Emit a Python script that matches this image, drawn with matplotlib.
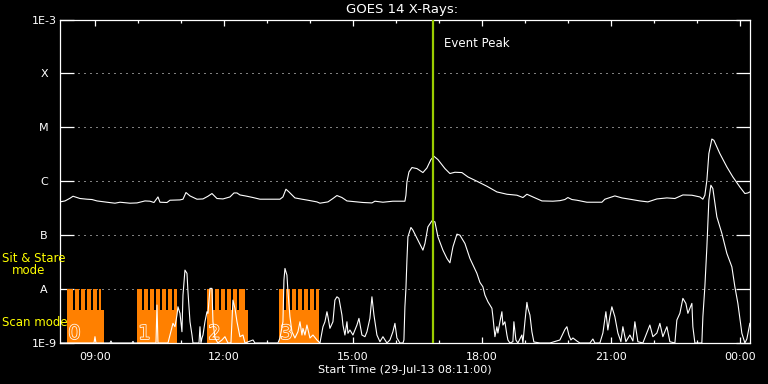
import numpy as np
import matplotlib
matplotlib.use("Agg")
import matplotlib.pyplot as plt
import matplotlib.patheffects as pe
from matplotlib.ticker import FixedLocator, MultipleLocator, NullLocator

# ---------------- data (time in decimal hours of 29-Jul-13, flux as log10 W/m^2) -------------
long_hours = [8.183, 8.300, 8.416, 8.486, 8.579, 8.648, 8.811, 8.927, 9.044, 9.276, 9.462, 9.579,
              9.811, 9.974, 10.160, 10.276, 10.369, 10.462, 10.509, 10.672, 10.741, 10.974, 11.044,
              11.114, 11.207, 11.369, 11.509, 11.625, 11.718, 11.834, 11.974, 12.137, 12.230, 12.300,
              12.369, 12.532, 12.672, 12.834, 12.997, 13.300, 13.369, 13.439, 13.509, 13.648, 13.811,
              13.951, 14.160, 14.230, 14.416, 14.532, 14.625, 14.741, 14.858, 14.997, 15.230, 15.439,
              15.509, 15.695, 15.927, 16.160, 16.206, 16.230, 16.253, 16.300, 16.369, 16.486, 16.625,
              16.718, 16.811, 16.881, 16.974, 17.137, 17.253, 17.369, 17.532, 17.672, 17.881, 18.114,
              18.346, 18.579, 18.811, 18.951, 19.044, 19.183, 19.393, 19.648, 19.811, 19.927, 19.997,
              20.090, 20.206, 20.439, 20.788, 20.858, 21.090, 21.253, 21.439, 21.672, 21.858, 22.067,
              22.300, 22.486, 22.672, 22.881, 23.067, 23.137, 23.183, 23.230, 23.276, 23.346, 23.393,
              23.532, 23.695, 23.834, 23.997, 24.114, 24.183, 24.230]
long_log = [-6.383, -6.365, -6.315, -6.278, -6.302, -6.320, -6.333, -6.339, -6.365, -6.389, -6.407, -6.389,
            -6.407, -6.402, -6.365, -6.370, -6.394, -6.291, -6.389, -6.394, -6.352, -6.346, -6.333,
            -6.209, -6.272, -6.333, -6.328, -6.278, -6.228, -6.320, -6.328, -6.291, -6.217, -6.217,
            -6.254, -6.278, -6.302, -6.333, -6.333, -6.333, -6.291, -6.148, -6.198, -6.309, -6.333,
            -6.352, -6.383, -6.407, -6.383, -6.320, -6.265, -6.302, -6.365, -6.376, -6.394, -6.402,
            -6.370, -6.389, -6.370, -6.370, -6.370, -6.259, -6.013, -5.828, -5.746, -5.765, -5.839,
            -5.754, -5.598, -5.537, -5.598, -5.765, -5.857, -5.833, -5.839, -5.920, -6.000, -6.093,
            -6.198, -6.241, -6.259, -6.302, -6.241, -6.291, -6.365, -6.370, -6.360, -6.339, -6.302,
            -6.339, -6.352, -6.389, -6.389, -6.333, -6.272, -6.309, -6.333, -6.365, -6.383, -6.328,
            -6.309, -6.320, -6.254, -6.259, -6.291, -6.333, -6.259, -5.981, -5.487, -5.217, -5.241,
            -5.487, -5.735, -5.920, -6.106, -6.228, -6.217, -6.198]

short_hours = [8.183, 8.881, 8.974, 8.997, 9.020, 9.346, 9.369, 9.392, 9.857, 9.881, 9.904, 10.323,
               10.416, 10.439, 10.462, 10.695, 10.741, 10.811, 10.858, 10.904, 10.927, 10.974, 11.020,
               11.044, 11.090, 11.137, 11.160, 11.207, 11.253, 11.276, 11.416, 11.439, 11.462, 11.486,
               11.509, 11.555, 11.602, 11.625, 11.672, 11.718, 11.741, 11.788, 11.857, 11.950, 12.020,
               12.090, 12.160, 12.183, 12.206, 12.253, 12.300, 12.323, 12.369, 12.439, 12.486, 12.672,
               12.718, 13.253, 13.300, 13.369, 13.392, 13.416, 13.462, 13.486, 13.532, 13.578, 13.648,
               13.718, 13.765, 13.811, 13.834, 13.881, 13.927, 13.997, 14.067, 14.160, 14.230, 14.300,
               14.346, 14.393, 14.416, 14.462, 14.532, 14.578, 14.625, 14.672, 14.741, 14.765, 14.811,
               14.858, 14.881, 14.927, 14.997, 15.090, 15.137, 15.206, 15.276, 15.323, 15.392, 15.439,
               15.486, 15.555, 15.625, 15.695, 15.788, 15.858, 15.927, 15.974, 16.020, 16.090, 16.160,
               16.183, 16.206, 16.230, 16.253, 16.276, 16.346, 16.392, 16.509, 16.625, 16.672, 16.741,
               16.834, 16.904, 16.974, 17.090, 17.183, 17.253, 17.323, 17.416, 17.486, 17.602, 17.718,
               17.881, 17.951, 18.020, 18.067, 18.137, 18.230, 18.253, 18.300, 18.346, 18.369, 18.416,
               18.462, 18.486, 18.532, 18.579, 18.602, 18.648, 18.718, 18.741, 18.788, 18.834, 18.927,
               18.951, 18.997, 19.044, 19.067, 19.114, 19.160, 19.206, 19.346, 19.579, 19.811, 19.927,
               19.974, 20.020, 20.067, 20.114, 20.206, 20.276, 20.509, 20.579, 20.625, 20.741, 20.811,
               20.881, 20.927, 20.974, 21.020, 21.090, 21.160, 21.230, 21.276, 21.346, 21.439, 21.509,
               21.555, 21.625, 21.741, 21.904, 21.974, 22.067, 22.137, 22.206, 22.300, 22.369, 22.486,
               22.532, 22.602, 22.672, 22.741, 22.788, 22.881, 22.904, 22.951, 23.113, 23.137, 23.183,
               23.230, 23.276, 23.323, 23.369, 23.462, 23.579, 23.695, 23.811, 23.881, 23.951, 24.044,
               24.114, 24.160, 24.230]
short_log = [-9.0, -9.0, -9.0, -8.883, -9.0, -9.0, -8.963, -9.0, -9.0, -8.970, -9.0, -9.0,
             -9.0, -8.296, -9.0, -9.0, -8.852, -8.635, -8.698, -8.481, -8.328, -8.450, -8.791,
             -8.111, -7.648, -7.709, -8.050, -8.606, -8.852, -9.0, -9.0, -8.698, -9.0, -8.907,
             -8.852, -8.606, -8.420, -8.450, -7.987, -7.987, -8.606, -8.907, -9.0, -8.944, -8.883,
             -9.0, -9.0, -8.606, -8.204, -8.357, -8.606, -8.698, -8.883, -8.852, -9.0, -8.944,
             -9.0, -9.0, -8.907, -8.606, -7.833, -7.617, -7.741, -8.050, -8.513, -8.791, -8.907,
             -8.791, -8.606, -8.852, -8.728, -8.852, -8.667, -8.907, -8.852, -8.944, -9.0, -8.698,
             -8.606, -8.420, -8.513, -8.728, -8.606, -8.204, -8.143, -8.172, -8.481, -8.667, -8.852,
             -8.606, -8.820, -8.759, -8.852, -8.667, -8.543, -8.852, -8.883, -8.791, -8.543, -8.143,
             -8.481, -8.852, -8.976, -8.883, -9.0, -8.944, -8.791, -8.635, -8.907, -9.0, -9.0,
             -8.944, -8.328, -7.987, -7.463, -7.031, -6.857, -6.907, -7.093, -7.278, -7.154, -6.846,
             -6.735, -6.754, -7.031, -7.278, -7.431, -7.513, -7.217, -6.981, -7.000, -7.154, -7.431,
             -7.709, -7.876, -7.957, -8.111, -8.235, -8.357, -8.513, -8.883, -8.698, -8.815, -8.606,
             -8.420, -8.667, -8.606, -8.852, -8.944, -9.0, -8.976, -8.606, -8.944, -9.0, -8.852,
             -9.0, -8.606, -8.246, -8.357, -8.481, -8.791, -8.981, -9.0, -9.0, -8.944, -8.750,
             -8.698, -8.852, -8.944, -8.907, -8.963, -9.0, -9.0, -8.926, -9.0, -9.0, -8.815,
             -8.420, -8.759, -8.513, -8.328, -8.513, -8.815, -8.976, -8.698, -8.976, -8.852, -8.963,
             -8.606, -8.976, -9.0, -8.667, -8.883, -8.815, -8.635, -8.883, -8.698, -8.976, -9.0,
             -8.574, -8.450, -8.172, -8.265, -8.450, -8.265, -8.698, -9.0, -9.0, -8.513, -7.957,
             -7.217, -6.352, -6.074, -6.135, -6.661, -6.969, -7.339, -7.587, -7.957, -8.265, -8.820,
             -9.0, -8.926, -8.635]

# scan-mode blocks (start/end hours) and their sit & stare teeth
scan_start = [8.346, 9.974, 11.602, 13.276]
scan_end = [9.206, 10.904, 12.555, 14.206]
scan_labels = ["0", "1", "2", "3"]
scan_teeth = [
    [(8.346, 8.486), (8.532, 8.625), (8.672, 8.765), (8.811, 8.904), (8.951, 9.044), (9.090, 9.137)],
    [(9.974, 10.090), (10.137, 10.230), (10.276, 10.369), (10.416, 10.509), (10.556, 10.648),
     (10.695, 10.788), (10.834, 10.904)],
    [(11.602, 11.741), (11.788, 11.881), (11.927, 12.020), (12.067, 12.160), (12.206, 12.299),
     (12.346, 12.485)],
    [(13.276, 13.392), (13.439, 13.532), (13.578, 13.671), (13.718, 13.811), (13.857, 13.950),
     (13.997, 14.090), (14.136, 14.206)],
]
scan_level = 4.08e-9
stare_level = 1e-8

event_peak = 16.855

x_ticks = [9, 12, 15, 18, 21, 24]
x_ticklabels = ["09:00", "12:00", "15:00", "18:00", "21:00", "00:00"]
y_ticks = [1e-9, 1e-8, 1e-7, 1e-6, 1e-5, 1e-4, 1e-3]
y_ticklabels = ["1E-9", "A", "B", "C", "M", "X", "1E-3"]

# ---------------- figure ----------------
W, H = 768, 384
fig = plt.figure(figsize=(W / 100, H / 100), dpi=100, facecolor="black")
ax = fig.add_axes([60 / W, 1 - 343 / H, 690 / W, (343 - 19.5) / H])
ax.set_facecolor("black")
ax.set_yscale("log")
ax.set_xlim(8.1833, 24.233)
ax.set_ylim(1e-9, 1e-3)

orange = "#ff8000"
for s, e, teeth in zip(scan_start, scan_end, scan_teeth):
    ax.bar(s, scan_level - 1e-9, width=e - s, bottom=1e-9, align="edge",
           color=orange, linewidth=0, zorder=2, antialiased=False)
    for ts, te in teeth:
        ax.bar(ts, stare_level - scan_level, width=te - ts, bottom=scan_level, align="edge",
               color=orange, linewidth=0, zorder=2, antialiased=False)

for s, lab in zip(scan_start, scan_labels):
    ax.text(s + 0.03, 1.0e-9, lab, color=orange, fontsize=14, ha="left", va="bottom",
            family=["Liberation Sans Narrow", "DejaVu Sans"], zorder=3,
            path_effects=[pe.Stroke(linewidth=1.1, foreground="white"), pe.Normal()])

ax.plot(long_hours, 10 ** np.array(long_log), color="white", lw=0.8, zorder=4)
ax.plot(short_hours, 10 ** np.array(short_log), color="white", lw=0.8, zorder=4)

ax.axvline(event_peak, color="#9acd00", lw=1.6, zorder=5)
ax.text(event_peak + 0.25, 10 ** -3.444, "Event Peak", color="white", fontsize=8.5,
        ha="left", va="center", zorder=6)

# grid
ax.yaxis.grid(True, which="major", color="white", linestyle=(0, (1, 5)), lw=0.72, zorder=1)
ax.set_axisbelow(True)

for sp in ax.spines.values():
    sp.set_color("white")
    sp.set_linewidth(0.9)

ax.yaxis.set_major_locator(FixedLocator(y_ticks))
ax.yaxis.set_minor_locator(NullLocator())
ax.set_yticklabels(y_ticklabels)
ax.tick_params(axis="y", which="major", direction="in", length=10, width=0.9, color="white",
               left=True, right=True, labelcolor="white", labelsize=8, pad=11.5)
for t in ax.get_yticklabels():
    t.set_horizontalalignment("center")

ax.xaxis.set_major_locator(FixedLocator(x_ticks))
ax.set_xticklabels(x_ticklabels)
ax.xaxis.set_minor_locator(MultipleLocator(1))
ax.tick_params(axis="x", which="major", direction="in", length=4.3, width=0.9, color="white",
               top=True, bottom=True, labelcolor="white", labelsize=8, pad=6.5)
ax.tick_params(axis="x", which="minor", direction="in", length=2.2, width=0.9, color="white",
               top=True, bottom=True)

ax.set_xlabel("Start Time (29-Jul-13 08:11:00)", color="white", fontsize=8, labelpad=2)

fig.text(402 / W, 1 - 10 / H, "GOES 14 X-Rays:", color="white", fontsize=9.5,
         ha="center", va="center")

yellow = "#ffff00"
fig.text(2 / W, 1 - 259 / H, "Sit & Stare", color=yellow, fontsize=8.5, ha="left", va="center")
fig.text(12 / W, 1 - 271 / H, "mode", color=yellow, fontsize=8.5, ha="left", va="center")
fig.text(2 / W, 1 - 323 / H, "Scan mode", color=yellow, fontsize=8.5, ha="left", va="center")

fig.savefig("out.png", dpi=100, facecolor="black")
